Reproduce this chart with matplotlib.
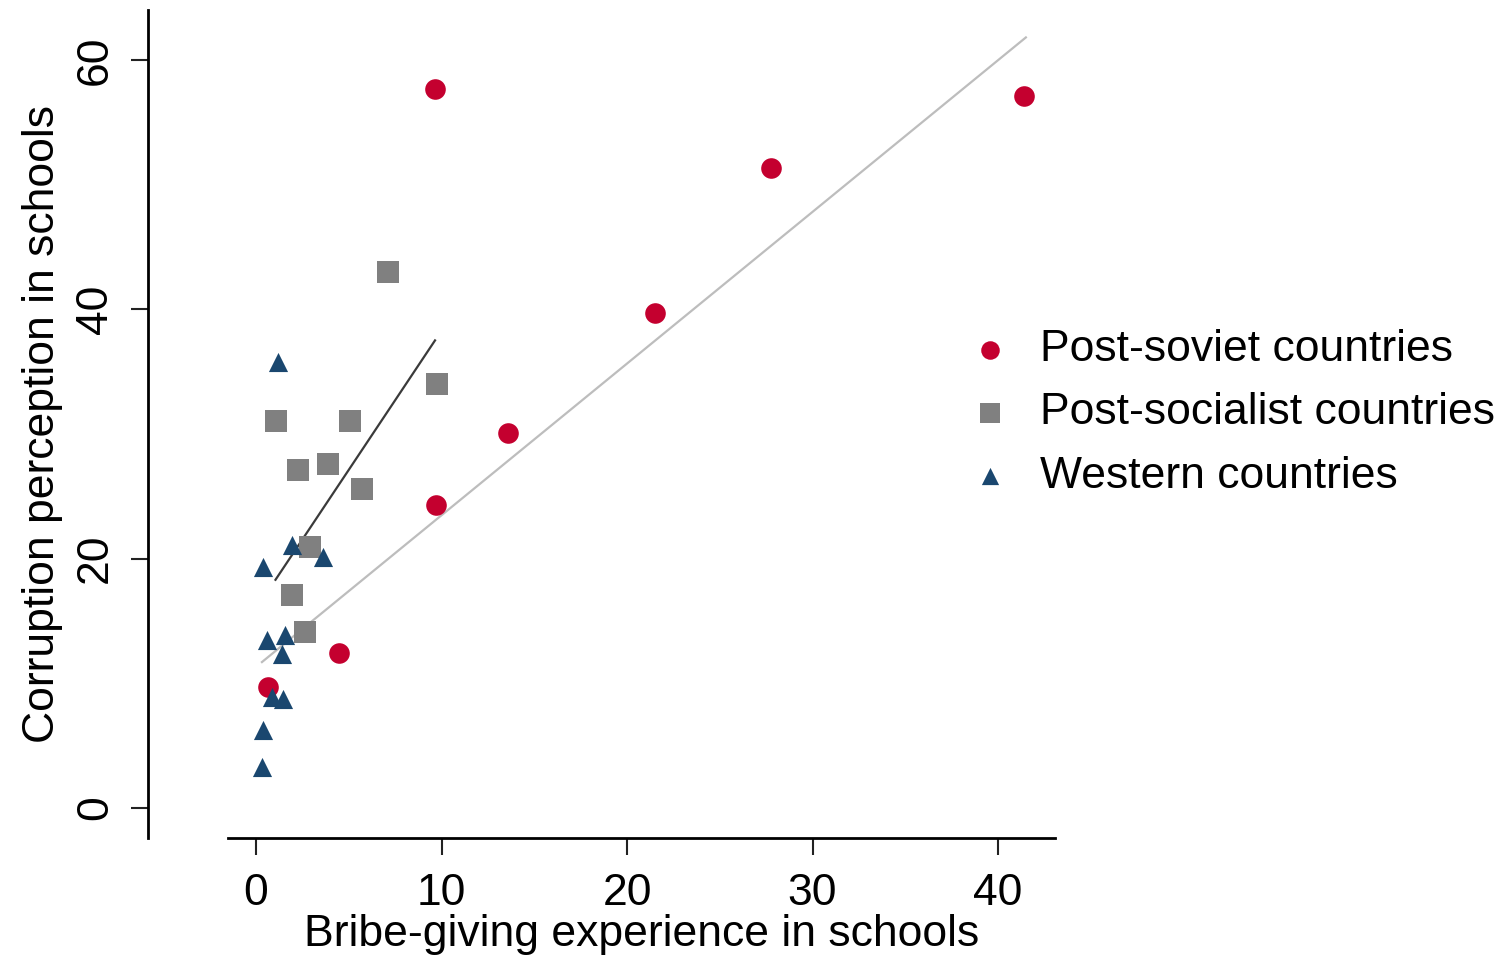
import matplotlib
matplotlib.use("Agg")
import matplotlib.pyplot as plt

# --- data ------------------------------------------------------------------
soviet_x = [9.65, 41.4, 27.75, 21.5, 13.6, 9.7, 4.5, 0.65]
soviet_y = [57.7, 57.1, 51.3, 39.7, 30.1, 24.3, 12.4, 9.7]

socialist_x = [7.1, 9.75, 1.08, 5.07, 2.26, 3.88, 5.7, 2.9, 1.94, 2.64]
socialist_y = [43.0, 34.0, 31.0, 31.0, 27.1, 27.6, 25.6, 20.9, 17.1, 14.1]

western_x = [1.19, 1.94, 3.6, 0.4, 0.6, 1.56, 1.4, 0.86, 1.46, 0.38, 0.32]
western_y = [35.8, 21.1, 20.1, 19.3, 13.5, 13.9, 12.35, 8.9, 8.7, 6.25, 3.3]

# fitted lines (endpoints as drawn)
fit_all_x = [0.32, 41.5]
fit_all_y = [11.7, 61.8]
fit_socialist_x = [1.05, 9.65]
fit_socialist_y = [18.3, 37.5]

labels = ["Post-soviet countries", "Post-socialist countries", "Western countries"]
xticks = [0, 10, 20, 30, 40]
yticks = [0, 20, 40, 60]

RED = "#c4002f"
GRAY = "#808080"
NAVY = "#1a476f"

plt.rcParams["font.family"] = ["Liberation Sans", "DejaVu Sans"]

W, H = 1509, 960
fig = plt.figure(figsize=(W / 100, H / 100), dpi=100)
# axes box in pixels: left 228, right 1055, top 10, bottom 838
ax = fig.add_axes([228 / W, 1 - 838 / H, (1055 - 228) / W, (838 - 10) / H])

ax.plot(fit_all_x, fit_all_y, color="#bdbdbd", lw=1.6, zorder=1)
ax.plot(fit_socialist_x, fit_socialist_y, color="#3a3a3a", lw=1.6, zorder=1)

ax.scatter(soviet_x, soviet_y, s=220, marker="o", color=RED, lw=0,
           label=labels[0], zorder=3)
ax.scatter(socialist_x, socialist_y, s=250, marker="s", color=GRAY, lw=0,
           label=labels[1], zorder=2)
ax.scatter(western_x, western_y, s=190, marker="^", color=NAVY, lw=0,
           label=labels[2], zorder=3)

ax.set_xlim(-1.51, 43.07)
ax.set_ylim(-2.41, 64.0)
ax.set_xticks(xticks)
ax.set_yticks(yticks)

for side in ("top", "right"):
    ax.spines[side].set_visible(False)
ax.spines["left"].set_position(("outward", 80 * 0.72))
ax.spines["left"].set_linewidth(2)
ax.spines["bottom"].set_linewidth(2)

ax.tick_params(axis="both", length=12, width=1.5, color="#222222",
               labelsize=32, direction="out")
ax.tick_params(axis="x", pad=13)
ax.tick_params(axis="y", pad=11)
for lab in ax.get_yticklabels():
    lab.set_rotation(90)
    lab.set_va("center")

ax.set_xlabel("Bribe-giving experience in schools", fontsize=32, labelpad=0)
ax.set_ylabel("Corruption perception in schools", fontsize=32, labelpad=9)

leg = ax.legend(loc="center left", bbox_to_anchor=(958 / W, 1 - 413 / H),
                bbox_transform=fig.transFigure, frameon=False, fontsize=32,
                handlelength=1.45, handletextpad=0.4, labelspacing=0.5,
                borderpad=0, borderaxespad=0, markerscale=0.9)

fig.savefig("out.png", dpi=100)
